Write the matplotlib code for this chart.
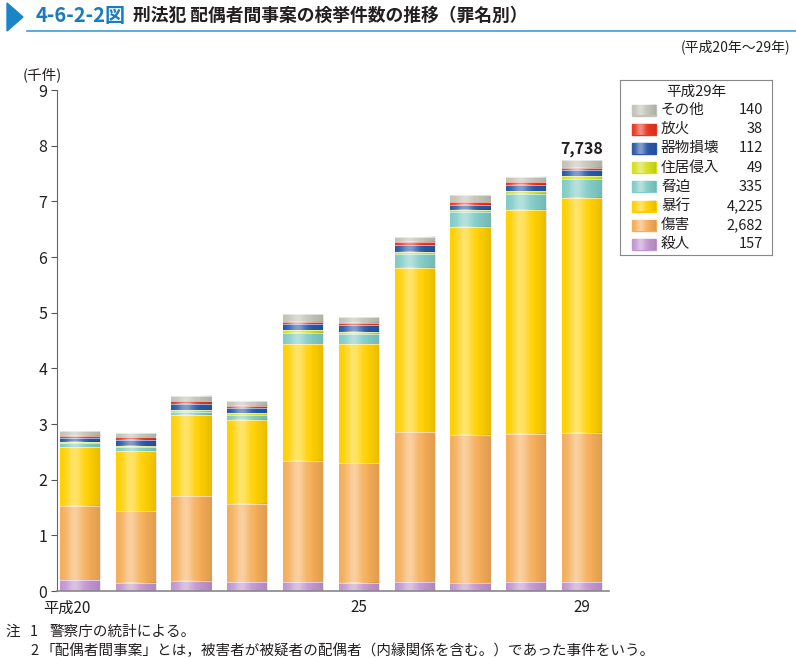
import numpy as np
import matplotlib
matplotlib.use('Agg')
import matplotlib.pyplot as plt
from matplotlib.patches import Rectangle, Polygon
from matplotlib.transforms import ScaledTranslation

plt.rcParams['font.family'] = ['Noto Sans CJK JP', 'DejaVu Sans']

# 平成20年～29年（件数）
years = ['20', '21', '22', '23', '24', '25', '26', '27', '28', '29']
satsujin = np.array([190, 150, 180, 160, 160, 150, 160, 140, 160, 157])
shougai = np.array([1340, 1290, 1520, 1410, 2180, 2150, 2690, 2660, 2660, 2682])
boukou = np.array([1050, 1070, 1460, 1510, 2100, 2130, 2960, 3740, 4030, 4225])
kyouhaku = np.array([70, 70, 60, 80, 200, 180, 240, 260, 290, 335])
jukyo = np.array([30, 30, 30, 30, 40, 40, 40, 50, 50, 49])
kibutsu = np.array([70, 110, 110, 90, 110, 120, 120, 90, 110, 112])
houka = np.array([40, 40, 50, 50, 50, 50, 60, 50, 50, 38])
sonota = np.array([80, 70, 90, 80, 130, 100, 90, 120, 90, 140])

names = ['殺人', '傷害', '暴行', '脅迫', '住居侵入', '器物損壊', '放火', 'その他']
series = [satsujin, shougai, boukou, kyouhaku, jukyo, kibutsu, houka, sonota]
colors = ['#c195cf', '#f5ad58', '#ffd000', '#80cbc6', '#d3e01a', '#2857a8', '#e8361f', '#c0c3b7']

tick_pos = [0, 5, 9]
tick_labels = ['平成20', '25', '29']


def shine(ax, x0, y0, w, h, z):
    # 棒の横方向グラデーション（光沢）
    t = np.linspace(0, 1, 80)
    img = np.zeros((1, 80, 4))
    a_w = 0.42 * np.exp(-((t - 0.36) / 0.2) ** 2)
    a_k = 0.10 * np.clip((t - 0.6) / 0.4, 0, 1) ** 1.5
    img[0, :, :3] = np.where(a_w > a_k, 1.0, 0.0)[:, None]
    img[0, :, 3] = np.maximum(a_w, a_k)
    ax.imshow(img, extent=[x0, x0 + w, y0, y0 + h], aspect='auto',
              interpolation='bilinear', zorder=z)


fig = plt.figure(figsize=(7.96, 6.58), dpi=100)
ax = fig.add_axes([0.0716, 0.1018, 0.6934, 0.7614])

x = np.arange(len(years))
bottom = np.zeros(len(years))
for vals, c in zip(series, colors):
    bars = ax.bar(x, vals / 1000, width=0.72, bottom=bottom / 1000, color=c,
                  edgecolor='none', zorder=2)
    for r in bars:
        shine(ax, r.get_x(), r.get_y(), r.get_width(), r.get_height(), 2.5)
        ax.plot([r.get_x(), r.get_x() + r.get_width()], [r.get_y() + r.get_height()] * 2,
                color='white', alpha=0.55, lw=0.7, zorder=3)
    bottom += vals

total = int(bottom[-1])
ax.text(x[-1], total / 1000 + 0.06, f'{total:,}', ha='center', va='bottom',
        fontsize=11.5, fontweight='bold', color='#231f20')

ax.set_xlim(-0.41, 9.48)
ax.set_ylim(0, 9)
ax.set_yticks(range(10))
ax.tick_params(axis='y', direction='out', length=4, width=0.8, colors='#555555',
               labelcolor='#231f20', labelsize=11.5, pad=3)
ax.set_xticks(tick_pos)
ax.set_xticklabels(tick_labels)
ax.tick_params(axis='x', length=0, labelsize=11, labelcolor='#231f20', pad=6)
lab0 = ax.get_xticklabels()[0]
lab0.set_transform(lab0.get_transform() + ScaledTranslation(-0.13, 0, fig.dpi_scale_trans))
for s in ['top', 'right']:
    ax.spines[s].set_visible(False)
ax.spines['left'].set_color('#666666')
ax.spines['left'].set_linewidth(0.8)
ax.spines['bottom'].set_color('#888888')
ax.spines['bottom'].set_linewidth(1.2)

W, H = 796, 658
def fx(px):
    return px / W
def fy(py):
    return 1 - py / H

fig.text(fx(42), fy(75), '(千件)', ha='center', va='center', fontsize=10.5, color='#231f20')
fig.text(fx(790), fy(47), '(平成20年～29年)', ha='right', va='center', fontsize=10, color='#231f20')

# タイトル
fig.patches.append(Polygon([[fx(7), fy(3)], [fx(23), fy(17)], [fx(7), fy(31)]],
                           closed=True, transform=fig.transFigure, color='#1a86c8'))
fig.add_artist(plt.Line2D([fx(27), fx(796)], [fy(31), fy(31)], transform=fig.transFigure,
                          color='#3b9fd6', lw=1.2))
fig.text(fx(36), fy(16), '4-6-2-2図', ha='left', va='center', fontsize=14.5,
         fontweight='bold', color='#1a7cc0')
fig.text(fx(133), fy(16), '刑法犯 配偶者間事案の検挙件数の推移（罪名別）', ha='left', va='center',
         fontsize=12.8, fontweight='bold', color='#231f20')

# 凡例
lg = fig.add_axes([fx(620), fy(255), fx(772) - fx(620), fy(80) - fy(255)])
lg.set_xticks([])
lg.set_yticks([])
for s in lg.spines.values():
    s.set_color('#888888')
    s.set_linewidth(0.8)
lg.text(76, 12, '平成' + years[-1] + '年', ha='center', va='center', fontsize=10.5, color='#231f20')
row_y = 30
for name, vals, c in zip(names[::-1], series[::-1], colors[::-1]):
    lg.add_patch(Rectangle((12, row_y - 5.5), 24, 11, color=c, zorder=2))
    shine(lg, 12, row_y + 5.5, 24, -11, 2.5)
    lg.text(41, row_y, name, ha='left', va='center', fontsize=10.5, color='#231f20')
    lg.text(143, row_y, f'{int(vals[-1]):,}', ha='right', va='center', fontsize=10.5, color='#231f20')
    row_y += 19.2
lg.set_xlim(0, 152)
lg.set_ylim(175, 0)

# 注
fs_note = 10.5
fig.text(fx(5), fy(632), '注', ha='left', va='center', fontsize=fs_note, color='#231f20')
fig.text(fx(30), fy(632), '1', ha='left', va='center', fontsize=fs_note, color='#231f20')
fig.text(fx(50), fy(632), '警察庁の統計による。', ha='left', va='center', fontsize=fs_note, color='#231f20')
fig.text(fx(30), fy(651), '2', ha='left', va='center', fontsize=fs_note, color='#231f20')
fig.text(fx(41), fy(651), '「配偶者間事案」とは，被害者が被疑者の配偶者（内縁関係を含む。）であった事件をいう。',
         ha='left', va='center', fontsize=fs_note, color='#231f20')

fig.savefig('out.png', dpi=100)
